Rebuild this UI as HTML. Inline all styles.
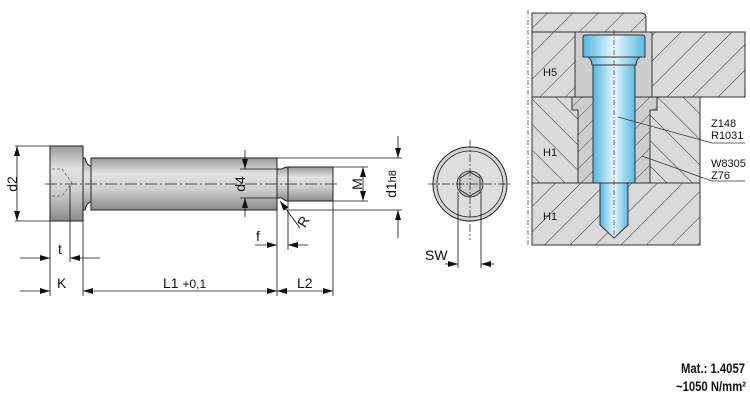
<!DOCTYPE html>
<html><head><style>
html,body{margin:0;padding:0;background:#fff;}
svg{display:block;}
text{font-family:"Liberation Sans",sans-serif;fill:#111;}
</style></head><body>
<svg width="750" height="400" viewBox="0 0 750 400" xmlns="http://www.w3.org/2000/svg">
<defs>
<linearGradient id="g" x1="0" y1="0" x2="0" y2="1">
<stop offset="0" stop-color="#9a9a9a"/><stop offset="0.3" stop-color="#e2e2e2"/><stop offset="0.6" stop-color="#cfcfcf"/><stop offset="1" stop-color="#8a8a8a"/></linearGradient>
<linearGradient id="b" x1="0" y1="0" x2="1" y2="0">
<stop offset="0" stop-color="#4fb6e0"/><stop offset="0.5" stop-color="#e8f7fd"/><stop offset="1" stop-color="#5ab9e2"/></linearGradient>
<pattern id="h1" width="18" height="18" patternUnits="userSpaceOnUse" patternTransform="rotate(45)"><rect width="18" height="18" fill="#dadada"/><line x1="0" y1="0" x2="0" y2="18" stroke="#333" stroke-width="1"/></pattern>
<pattern id="h2" width="18" height="18" patternUnits="userSpaceOnUse" patternTransform="rotate(-45)"><rect width="18" height="18" fill="#dadada"/><line x1="0" y1="0" x2="0" y2="18" stroke="#333" stroke-width="1"/></pattern>
<pattern id="h3" width="12" height="12" patternUnits="userSpaceOnUse" patternTransform="rotate(45)"><rect width="12" height="12" fill="#cdcdcd"/><line x1="0" y1="0" x2="0" y2="12" stroke="#333" stroke-width="0.8"/></pattern>
<marker id="a" markerWidth="10" markerHeight="6" refX="10" refY="3" orient="auto-start-reverse" markerUnits="userSpaceOnUse"><path d="M0,0 L10,3 L0,6z" fill="#111"/></marker>
</defs>

<g stroke="#222" stroke-width="1">
<rect x="50" y="146" width="33" height="75" fill="url(#g)"/>
<path d="M83,158 L85,158 Q87,166 91,166 L91,202 Q87,202 85,210 L83,210Z" fill="url(#g)"/>
<rect x="91" y="158" width="186" height="52" fill="url(#g)"/>
<path d="M277,169 L282,169 Q285,167 288,167 L288,201 Q285,201 282,198 L277,198Z" fill="url(#g)"/>
<rect x="288" y="167" width="45" height="34" fill="url(#g)"/>
</g>
<line x1="45" y1="184" x2="340" y2="184" stroke="#222" stroke-width="0.8" stroke-dasharray="12,3,2,3"/>
<g stroke="#555" stroke-width="0.7" fill="none" stroke-dasharray="3,2"><path d="M52,169 H62 M52,196 H62 M62,169 L72,183 L62,196"/></g>

<g stroke="#111" stroke-width="0.8" fill="none">
<line x1="15" y1="146" x2="50" y2="146"/><line x1="15" y1="221" x2="50" y2="221"/>
<line x1="17" y1="146" x2="17" y2="221" marker-start="url(#a)" marker-end="url(#a)"/>
<line x1="50" y1="221" x2="50" y2="296"/><line x1="83" y1="210" x2="83" y2="296"/>
<line x1="70" y1="186" x2="70" y2="262"/>
<line x1="277" y1="210" x2="277" y2="296"/><line x1="333" y1="201" x2="333" y2="296"/>
<line x1="288" y1="201" x2="288" y2="250"/>
<line x1="20" y1="258" x2="50" y2="258" marker-end="url(#a)"/><line x1="100" y1="258" x2="70" y2="258" marker-end="url(#a)"/>
<line x1="20" y1="291" x2="50" y2="291" marker-end="url(#a)"/>
<line x1="83" y1="291" x2="277" y2="291" marker-start="url(#a)" marker-end="url(#a)"/>
<line x1="277" y1="291" x2="333" y2="291" marker-start="url(#a)" marker-end="url(#a)"/>
<line x1="255" y1="245" x2="277" y2="245" marker-end="url(#a)"/><line x1="308" y1="245" x2="288" y2="245" marker-end="url(#a)"/>
<line x1="245" y1="150" x2="245" y2="169" marker-end="url(#a)"/><line x1="245" y1="217" x2="245" y2="198" marker-end="url(#a)"/>
<line x1="240" y1="169" x2="277" y2="169"/><line x1="240" y1="198" x2="277" y2="198"/>
<line x1="333" y1="167" x2="368" y2="167"/><line x1="333" y1="201" x2="368" y2="201"/>
<line x1="363" y1="167" x2="363" y2="201" marker-start="url(#a)" marker-end="url(#a)"/>
<line x1="277" y1="158" x2="402" y2="158"/><line x1="289" y1="210" x2="402" y2="210"/>
<line x1="398" y1="136" x2="398" y2="158" marker-end="url(#a)"/><line x1="398" y1="238" x2="398" y2="210" marker-end="url(#a)"/>
<line x1="300" y1="228" x2="280" y2="201" marker-end="url(#a)"/>
</g>
<g font-size="14">
<text x="12" y="189" transform="rotate(-90 12 184)" text-anchor="middle">d2</text>
<text x="58" y="254">t</text>
<text x="57" y="288">K</text>
<text x="163" y="288">L1 <tspan font-size="12">+0,1</tspan></text>
<text x="297" y="288">L2</text>
<text x="256" y="241">f</text>
<text x="299" y="226" transform="rotate(-60 304 222)">R</text>
<text x="240" y="189" transform="rotate(-90 240 184)" text-anchor="middle">d4</text>
<text x="357" y="189" transform="rotate(-90 357 184)" text-anchor="middle">M</text>
<text x="391" y="189" transform="rotate(-90 391 184)" text-anchor="middle">d1<tspan font-size="11">h8</tspan></text>
</g>

<circle cx="470" cy="184" r="37" fill="#d4d4d4" stroke="#222" stroke-width="1"/>
<circle cx="470" cy="184" r="33" fill="#dedede" stroke="#222" stroke-width="0.8"/>
<circle cx="470" cy="184" r="13" fill="#c4c4c4" stroke="#222" stroke-width="0.8"/>
<polygon points="470,172 480,178 480,190 470,196 460,190 460,178" fill="#cdcdcd" stroke="#222" stroke-width="0.8"/>
<g stroke="#222" stroke-width="0.7" stroke-dasharray="8,2,2,2"><line x1="428" y1="184" x2="512" y2="184"/><line x1="470" y1="140" x2="470" y2="240"/></g>
<g stroke="#111" stroke-width="0.8"><line x1="458" y1="192" x2="458" y2="268"/><line x1="481" y1="192" x2="481" y2="268"/>
<line x1="445" y1="264" x2="458" y2="264" marker-end="url(#a)"/><line x1="494" y1="264" x2="481" y2="264" marker-end="url(#a)"/></g>
<text x="425" y="260" font-size="14">SW</text>

<g stroke="#333" stroke-width="1">
<path d="M532,13 H641 Q646,13 646,18 V32 H532Z" fill="url(#h1)"/>
<rect x="532" y="32" width="213" height="65" fill="url(#h1)"/>
<rect x="575" y="32" width="77" height="65" fill="#cdcdcd"/>
<rect x="532" y="97" width="168" height="86" fill="url(#h2)"/>
<rect x="532" y="183" width="168" height="62" fill="url(#h1)"/>
<path d="M572,97 H657 V110 H650 V183 H578 V110 H572Z" fill="url(#h3)"/>
<path d="M583,37 Q583,35 586,35 H642 Q645,35 645,38 V57 H583Z" fill="url(#b)"/>
<path d="M588,57 H640 Q636,60 636,65 H592 Q592,60 588,57Z" fill="url(#b)"/>
<rect x="593" y="65" width="42" height="118" fill="url(#b)"/>
<path d="M600,183 H628 V225 L614,238 L600,225Z" fill="url(#b)"/>
</g>
<g stroke="#333" stroke-width="0.7" stroke-dasharray="5,2,1,2"><line x1="528" y1="10" x2="528" y2="245"/><line x1="614" y1="30" x2="614" y2="240"/></g>
<g stroke="#333" stroke-width="0.7" fill="none">
<line x1="618" y1="117" x2="712" y2="143"/><line x1="712" y1="143" x2="745" y2="143"/>
<line x1="642" y1="156" x2="712" y2="181"/><line x1="712" y1="181" x2="745" y2="181"/>
</g>
<g font-size="11">
<text x="543" y="76">H5</text><text x="543" y="156">H1</text><text x="543" y="220">H1</text>
<text x="711" y="127">Z148</text><text x="711" y="139">R1031</text>
<text x="711" y="167">W8305</text><text x="711" y="179">Z76</text>
</g>
<g font-size="14" font-family="Liberation Sans Narrow, Liberation Sans, sans-serif" font-weight="bold">
<text x="681" y="373" textLength="64" lengthAdjust="spacingAndGlyphs">Mat.: 1.4057</text>
<text x="676" y="391" textLength="70" lengthAdjust="spacingAndGlyphs">~1050 N/mm²</text>
</g>
</svg>
</body></html>
